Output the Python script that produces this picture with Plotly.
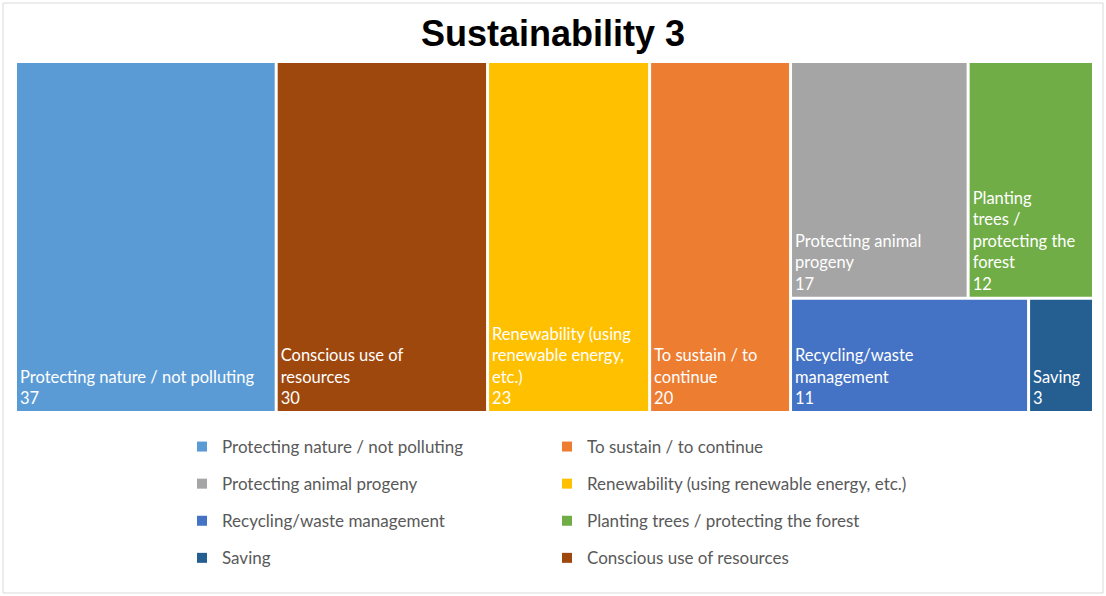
import plotly.graph_objects as go

# tiles in drawing order (Excel treemap layout)
categories = [
    "Protecting nature / not polluting",
    "Conscious use of resources",
    "Renewability (using renewable energy, etc.)",
    "To sustain / to continue",
    "Protecting animal progeny",
    "Planting trees / protecting the forest",
    "Recycling/waste management",
    "Saving",
]
counts = [37, 30, 23, 20, 17, 12, 11, 3]
colors = ["#5B9BD5", "#9E480E", "#FFC000", "#ED7D31",
          "#A5A5A5", "#70AD47", "#4472C4", "#255E91"]
# wrapped labels as Excel shows them inside the tiles
tile_labels = [
    "Protecting nature / not polluting",
    "Conscious use of<br>resources",
    "Renewability (using<br>renewable energy,<br>etc.)",
    "To sustain / to<br>continue",
    "Protecting animal<br>progeny",
    "Planting<br>trees /<br>protecting the<br>forest",
    "Recycling/waste<br>management",
    "Saving",
]
# legend order (two columns)
legend_col1 = ["Protecting nature / not polluting", "Protecting animal progeny",
               "Recycling/waste management", "Saving"]
legend_col2 = ["To sustain / to continue", "Renewability (using renewable energy, etc.)",
               "Planting trees / protecting the forest", "Conscious use of resources"]

# hidden grouping so plotly reproduces the Excel arrangement
tile_parent = ["", "", "", "", "row1", "row1", "row2", "row2"]
ids = ["c%d" % i for i in range(len(categories))] + ["grp", "row1", "row2"]
parents = tile_parent + ["", "grp", "grp"]
values = counts + [0, 0, 0]
text = [f"{l}<br>{v}" for l, v in zip(tile_labels, counts)] + ["", "", ""]
tile_colors = colors + ["white", "white", "white"]
labels = categories + ["", "", ""]

fig = go.Figure()
fig.add_trace(go.Treemap(
    ids=ids, labels=labels, parents=parents, values=values,
    branchvalues="remainder", sort=False,
    text=text, texttemplate="%{text}", textposition="bottom left",
    textfont=dict(family="Lato", size=16.5, color="white"),
    marker=dict(colors=tile_colors, line=dict(color="white", width=0),
                pad=dict(t=0, l=0, r=0, b=0)),
    tiling=dict(packing="slice-dice", pad=3),
    pathbar=dict(visible=False),
    root=dict(color="rgba(0,0,0,0)"),
    hoverinfo="label+value",
    domain=dict(x=[17 / 1106, 1092 / 1106], y=[185 / 596, 533 / 596]),
))

color_of = dict(zip(categories, colors))
for col, lg in ((legend_col1, "legend"), (legend_col2, "legend2")):
    for name in col:
        fig.add_trace(go.Scatter(
            x=[None], y=[None], mode="markers", name=name,
            marker=dict(symbol="square", size=10, color=color_of[name]),
            legend=lg, legendgroup=name, hoverinfo="skip",
        ))

legend_style = dict(
    orientation="v", yanchor="top", y=1 - 429 / 596, xanchor="left",
    font=dict(family="Lato", size=17, color="#595959"),
    tracegroupgap=12, bgcolor="rgba(0,0,0,0)",
)
fig.update_layout(
    width=1106, height=596,
    paper_bgcolor="white", plot_bgcolor="white",
    margin=dict(l=0, r=0, t=0, b=0),
    title=dict(text="<b>Sustainability 3</b>", x=0.5, xanchor="center",
               y=1 - 33 / 596, yanchor="middle",
               font=dict(family="Liberation Sans", size=36, color="black")),
    xaxis=dict(visible=False, domain=[0, 0.01]),
    yaxis=dict(visible=False, domain=[0, 0.01]),
    legend=dict(x=182 / 1106, **legend_style),
    legend2=dict(x=547 / 1106, **legend_style),
    shapes=[dict(type="rect", xref="paper", yref="paper",
                 x0=3 / 1106, x1=1103 / 1106, y0=3 / 596, y1=593 / 596,
                 line=dict(color="#D9D9D9", width=1), fillcolor="rgba(0,0,0,0)",
                 layer="below")],
)

fig.write_html("out.html", config={"displayModeBar": False},
               post_script="document.body.style.margin='0px';")
